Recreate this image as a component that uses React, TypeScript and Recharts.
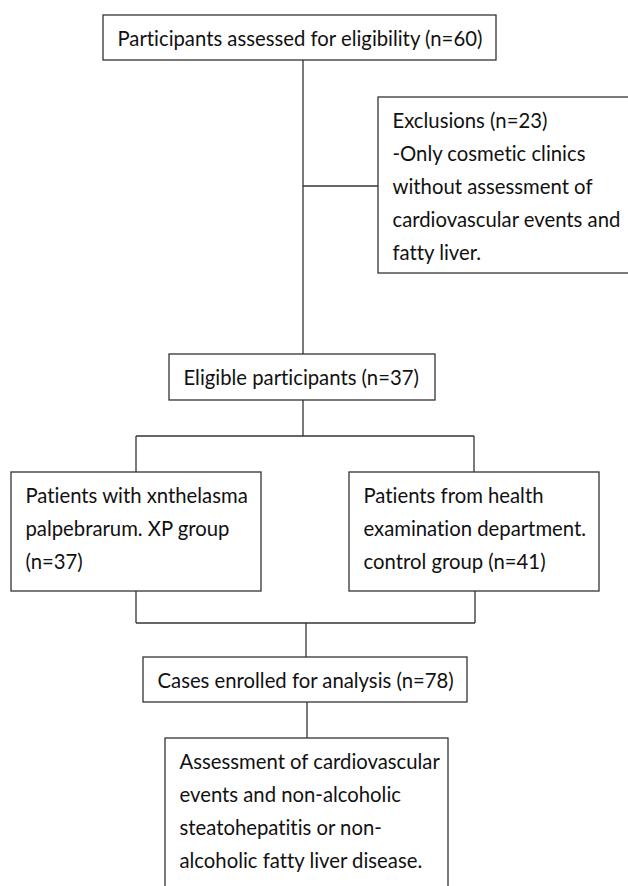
import { ComposedChart, XAxis, YAxis, ReferenceArea, ReferenceLine } from "recharts";

// box contents, top to bottom
const boxTexts: string[][] = [
  ["Participants assessed for eligibility (n=60)"],
  [
    "Exclusions (n=23)",
    "-Only cosmetic clinics",
    "without assessment of",
    "cardiovascular events and",
    "fatty liver.",
  ],
  ["Eligible participants (n=37)"],
  ["Patients with xnthelasma", "palpebrarum. XP group", "(n=37)"],
  ["Patients from health", "examination department.", "control group (n=41)"],
  ["Cases enrolled for analysis (n=78)"],
  [
    "Assessment of cardiovascular",
    "events and non-alcoholic",
    "steatohepatitis or non-",
    "alcoholic fatty liver disease.",
  ],
];

// box extents in chart units (x: 0-628, y: 0-886 top down)
const boxLeft = [103, 378, 169, 11, 349, 143, 165];
const boxRight = [496, 640, 435, 261, 599, 467, 448];
const boxTop = [15, 97, 354, 472, 472, 657, 738];
const boxBottom = [60, 273, 400, 591, 591, 702, 900];

// connector segments [x1, y1, x2, y2]
const connectors: number[][] = [
  [303, 60, 303, 354],
  [303, 186, 378, 186],
  [303, 400, 303, 436],
  [136, 436, 474, 436],
  [136, 436, 136, 472],
  [474, 436, 474, 472],
  [136, 591, 136, 623],
  [475, 591, 475, 623],
  [136, 623, 475, 623],
  [306, 623, 306, 657],
  [307, 702, 307, 738],
];

const W = 628;
const H = 886;
const FONT = "Lato, 'Open Sans', sans-serif";
const INK = "#333333";

function BoxShape(props: any) {
  const { x, y, width, height, lines } = props;
  return (
    <g>
      <rect x={x} y={y} width={width} height={height} fill="#ffffff" stroke={INK} strokeWidth={1.3} />
      <text fontFamily={FONT} fontSize={20.3} fill="#111111" style={{ fontVariantLigatures: "none" }}>
        {lines.map((line: string, i: number) => (
          <tspan key={i} x={x + 14.5} y={y + 31 + i * 33}>
            {line}
          </tspan>
        ))}
      </text>
    </g>
  );
}

export default function App() {
  return (
    <div style={{ position: "absolute", left: 0, top: 0, width: W, height: H, background: "#fff" }}>
      <ComposedChart width={W} height={H} margin={{ top: 0, right: 0, bottom: 0, left: 0 }} data={[]}>
        <XAxis type="number" dataKey="x" domain={[0, W]} allowDataOverflow hide />
        <YAxis type="number" dataKey="y" domain={[0, H]} allowDataOverflow reversed hide />
        {connectors.map((c, i) => (
          <ReferenceLine
            key={`c${i}`}
            segment={[
              { x: c[0], y: c[1] },
              { x: c[2], y: c[3] },
            ]}
            stroke={INK}
            strokeWidth={1.3}
            ifOverflow="visible"
          />
        ))}
        {boxTexts.map((lines, i) => (
          <ReferenceArea
            key={`b${i}`}
            x1={boxLeft[i]}
            x2={boxRight[i]}
            y1={boxTop[i]}
            y2={boxBottom[i]}
            ifOverflow="hidden"
            shape={(p: any) => <BoxShape {...p} lines={lines} />}
          />
        ))}
      </ComposedChart>
    </div>
  );
}
